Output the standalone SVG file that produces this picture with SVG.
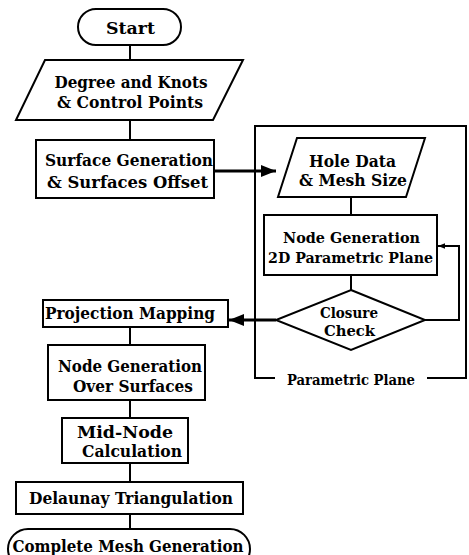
<svg xmlns="http://www.w3.org/2000/svg" width="469" height="555" viewBox="0 0 469 555">
  <defs>
    <marker id="arrow" viewBox="0 0 10 10" refX="10" refY="5" markerWidth="5" markerHeight="5" orient="auto" markerUnits="strokeWidth">
      <path d="M0,1 L10,5 L0,9 Z" fill="#000"/>
    </marker>
    <marker id="arrowSmall" viewBox="0 0 10 10" refX="10" refY="5" markerWidth="3.5" markerHeight="3.5" orient="auto" markerUnits="strokeWidth">
      <path d="M0,1 L10,5 L0,9 Z" fill="#000"/>
    </marker>
    <style>
      .shape { fill: #fff; stroke: #000; stroke-width: 2; }
      .line { fill: none; stroke: #000; stroke-width: 2; }
      .heavy { fill: none; stroke: #000; stroke-width: 3; }
      text { font-family: "DejaVu Serif", "Liberation Serif", serif; font-weight: bold; font-size: 16px; fill: #000; text-anchor: middle; }
      .small { font-size: 15px; }
      .label { font-size: 14px; }
    </style>
  </defs>
  <rect width="469" height="555" fill="#fff"/>

  <!-- frame around the parametric-plane stage -->
  <g id="parametric-frame">
    <path class="line" d="M275,378 H255 V126 H466 V378 H427"/>
    <text class="label" x="351" y="385" textLength="128" lengthAdjust="spacingAndGlyphs">Parametric Plane</text>
  </g>

  <!-- connectors -->
  <g id="connectors">
    <line class="line" x1="130" y1="45" x2="130" y2="60"/>
    <line class="line" x1="130" y1="120" x2="130" y2="140"/>
    <line class="heavy" x1="215" y1="171" x2="276" y2="171" marker-end="url(#arrow)"/>
    <line class="line" x1="351" y1="197" x2="351" y2="215"/>
    <line class="line" x1="351" y1="275" x2="351" y2="290"/>
    <polyline class="line" points="425,320 459,320 459,246 438,246" marker-end="url(#arrowSmall)"/>
    <line class="heavy" x1="276" y1="320" x2="229" y2="320" marker-end="url(#arrow)"/>
    <line class="line" x1="130" y1="327" x2="130" y2="345"/>
    <line class="line" x1="130" y1="400" x2="130" y2="418"/>
    <line class="line" x1="130" y1="463" x2="130" y2="482"/>
    <line class="line" x1="130" y1="514" x2="130" y2="529"/>
  </g>

  <g id="start">
    <rect class="shape" x="78" y="9" width="103" height="36" rx="18" ry="18"/>
    <text x="130.5" y="34" textLength="49" lengthAdjust="spacingAndGlyphs">Start</text>
  </g>

  <g id="degree-knots">
    <polygon class="shape" points="45,60 243,60 213,120 16,120"/>
    <text x="131" y="88" textLength="153" lengthAdjust="spacingAndGlyphs">Degree and Knots</text>
    <text x="130" y="108" textLength="146" lengthAdjust="spacingAndGlyphs">&amp; Control Points</text>
  </g>

  <g id="surface-generation">
    <rect class="shape" x="36" y="140" width="178" height="58"/>
    <text x="129" y="166" textLength="168" lengthAdjust="spacingAndGlyphs">Surface Generation</text>
    <text x="127.5" y="188" textLength="161" lengthAdjust="spacingAndGlyphs">&amp; Surfaces Offset</text>
  </g>

  <g id="hole-data">
    <polygon class="shape" points="297,138 425,138 406,197 278,197"/>
    <text x="352.5" y="167" textLength="87" lengthAdjust="spacingAndGlyphs">Hole Data</text>
    <text x="353" y="186" textLength="108" lengthAdjust="spacingAndGlyphs">&amp; Mesh Size</text>
  </g>

  <g id="node-generation-2d">
    <rect class="shape" x="264" y="215" width="173" height="60"/>
    <text class="small" x="351.5" y="243" textLength="137" lengthAdjust="spacingAndGlyphs">Node Generation</text>
    <text class="small" x="350.5" y="263" textLength="165" lengthAdjust="spacingAndGlyphs">2D Parametric Plane</text>
  </g>

  <g id="closure-check">
    <polygon class="shape" points="351,290 425,320 351,350 276,320"/>
    <text class="small" x="349" y="318" textLength="58" lengthAdjust="spacingAndGlyphs">Closure</text>
    <text class="small" x="349.5" y="336" textLength="51" lengthAdjust="spacingAndGlyphs">Check</text>
  </g>

  <g id="projection-mapping">
    <rect class="shape" x="43" y="300" width="185" height="27"/>
    <text x="130" y="319" textLength="170" lengthAdjust="spacingAndGlyphs">Projection Mapping</text>
  </g>

  <g id="node-generation-surfaces">
    <rect class="shape" x="48" y="345" width="157" height="55"/>
    <text x="130" y="372" textLength="144" lengthAdjust="spacingAndGlyphs">Node Generation</text>
    <text x="133" y="392" textLength="120" lengthAdjust="spacingAndGlyphs">Over Surfaces</text>
  </g>

  <g id="mid-node">
    <rect class="shape" x="62" y="418" width="126" height="45"/>
    <text x="125" y="438" textLength="96" lengthAdjust="spacingAndGlyphs">Mid-Node</text>
    <text x="132" y="457" textLength="100" lengthAdjust="spacingAndGlyphs">Calculation</text>
  </g>

  <g id="delaunay">
    <rect class="shape" x="16" y="482" width="227" height="32"/>
    <text x="131" y="504" textLength="204" lengthAdjust="spacingAndGlyphs">Delaunay Triangulation</text>
  </g>

  <g id="complete">
    <rect class="shape" x="8" y="529" width="242" height="40" rx="20" ry="20"/>
    <text x="128" y="552" textLength="231" lengthAdjust="spacingAndGlyphs">Complete Mesh Generation</text>
  </g>
</svg>
